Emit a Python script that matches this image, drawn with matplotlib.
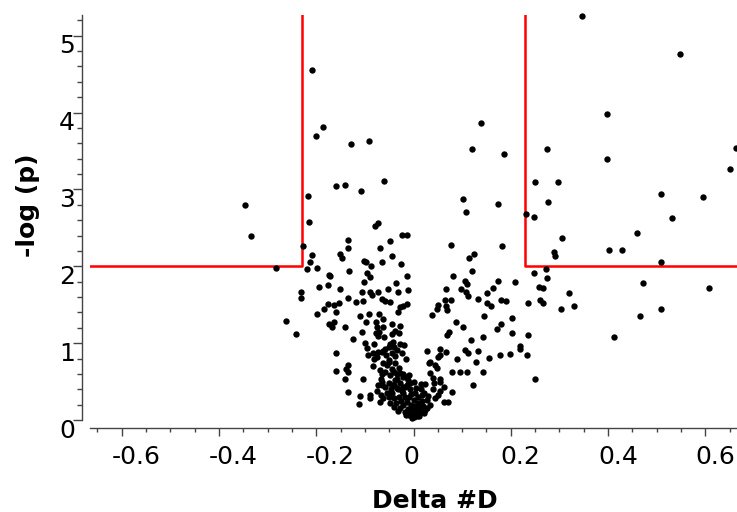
import matplotlib.pyplot as plt
import matplotlib.transforms as mtransforms
import numpy as np

# thresholds (vertical cut on Delta #D, horizontal cut on -log p)
fc_cut = 0.229
p_cut = 2.0
x_min, x_max = -0.665, 0.665
y_max = 5.27

x_major = [-0.6, -0.4, -0.2, 0.0, 0.2, 0.4, 0.6]
x_labels = ['-0.6', '-0.4', '-0.2', '0', '0.2', '0.4', '0.6']
y_major = [0, 1, 2, 3, 4, 5]
y_labels = ['0', '1', '2', '3', '4', '5']

# points, (Delta #D, -log p)
upper = [(-0.208, 4.55), (-0.187, 3.81), (-0.200, 3.70), (-0.128, 3.59), (-0.091, 3.63),
         (-0.159, 3.04), (-0.141, 3.06), (-0.107, 2.98), (-0.060, 3.11), (-0.216, 2.92),
         (-0.346, 2.80), (-0.214, 2.57), (-0.334, 2.40), (-0.080, 2.53), (-0.073, 2.56),
         (-0.135, 2.34), (-0.135, 2.24), (-0.228, 2.27), (-0.048, 2.33), (-0.023, 2.41),
         (-0.013, 2.41), (-0.068, 2.24), (0.077, 2.28), (0.102, 2.87), (0.108, 2.71),
         (0.121, 3.52), (0.347, 5.26), (0.548, 4.76), (0.398, 3.98), (0.139, 3.86),
         (0.186, 3.46), (0.275, 3.52), (0.398, 3.40), (0.662, 3.54), (0.650, 3.27),
         (0.250, 3.10), (0.297, 3.10), (0.509, 2.94), (0.595, 2.90), (0.173, 2.81),
         (0.277, 2.84), (0.232, 2.68), (0.247, 2.64), (0.531, 2.63), (0.459, 2.43),
         (0.306, 2.37), (0.182, 2.27), (0.288, 2.19), (0.291, 2.14), (0.402, 2.21),
         (0.429, 2.21), (0.509, 2.05)]

right = [(0.247, 1.91), (0.273, 1.97), (0.275, 1.85), (0.471, 1.78), (0.608, 1.72),
         (0.174, 1.81), (0.208, 1.79), (0.163, 1.72), (0.257, 1.73), (0.266, 1.72),
         (0.151, 1.65), (0.133, 1.58), (0.320, 1.65), (0.179, 1.56), (0.191, 1.55),
         (0.151, 1.52), (0.159, 1.48), (0.236, 1.52), (0.261, 1.56), (0.267, 1.52),
         (0.304, 1.45), (0.330, 1.48), (0.509, 1.45), (0.466, 1.35), (0.145, 1.35),
         (0.202, 1.33), (0.180, 1.25), (0.171, 1.18), (0.413, 1.08), (0.202, 1.13),
         (0.143, 1.08), (0.236, 1.10), (0.119, 1.04), (0.219, 0.96), (0.219, 0.92),
         (0.132, 0.90), (0.177, 0.85), (0.156, 0.81), (0.199, 0.86), (0.234, 0.85),
         (0.129, 0.76), (0.143, 0.63), (0.250, 0.54), (0.122, 0.46)]

middle_right = [(0.115, 2.11), (0.125, 2.16), (0.120, 1.94), (0.082, 1.88), (0.067, 1.70),
                (0.106, 1.81), (0.110, 1.77), (0.097, 1.70), (0.108, 1.67), (0.113, 1.61),
                (0.065, 1.56), (0.077, 1.56), (0.051, 1.50), (0.049, 1.44), (0.069, 1.43),
                (0.067, 1.48), (0.038, 1.37), (0.088, 1.27), (0.102, 1.21), (0.072, 1.15),
                (0.069, 1.11), (0.055, 0.92), (0.067, 0.89), (0.051, 0.82), (0.105, 0.91),
                (0.112, 0.87), (0.089, 0.80), (0.048, 0.68), (0.079, 0.63), (0.095, 0.62),
                (0.111, 0.63), (0.034, 0.61), (0.041, 0.55), (0.055, 0.53), (0.043, 0.48),
                (0.062, 0.43), (0.079, 0.37), (0.016, 0.47), (0.024, 0.47), (0.033, 0.75),
                (0.040, 0.40), (0.055, 0.38), (0.062, 0.24), (0.071, 0.23), (0.028, 0.90),
                (0.055, 0.85), (0.045, 0.72), (0.055, 0.50), (0.051, 0.33), (0.045, 0.28)]

left = [(-0.209, 2.15), (-0.213, 2.05), (-0.282, 1.98), (-0.218, 1.97), (-0.199, 1.98),
        (-0.151, 2.16), (-0.146, 2.11), (-0.174, 1.89), (-0.171, 1.87), (-0.194, 1.73),
        (-0.176, 1.76), (-0.231, 1.67), (-0.231, 1.59), (-0.152, 1.70), (-0.175, 1.51),
        (-0.164, 1.49), (-0.154, 1.52), (-0.184, 1.44), (-0.160, 1.41), (-0.199, 1.38),
        (-0.173, 1.25), (-0.168, 1.21), (-0.163, 1.27), (-0.262, 1.29), (-0.242, 1.12)]

middle_left = [(-0.101, 2.07), (-0.097, 2.05), (-0.087, 2.01), (-0.064, 2.05), (-0.044, 2.13),
               (-0.025, 2.03), (-0.132, 1.94), (-0.096, 1.91), (-0.089, 1.86), (-0.014, 1.88),
               (-0.101, 1.79), (-0.037, 1.78), (-0.053, 1.71), (-0.032, 1.67), (-0.012, 1.69),
               (-0.106, 1.66), (-0.090, 1.66), (-0.086, 1.63), (-0.072, 1.66), (-0.134, 1.59),
               (-0.118, 1.54), (-0.103, 1.55), (-0.064, 1.58), (-0.058, 1.55), (-0.049, 1.54),
               (-0.022, 1.48), (-0.014, 1.51), (-0.028, 1.47), (-0.031, 1.40), (-0.092, 1.38),
               (-0.071, 1.38), (-0.111, 1.35), (-0.062, 1.32), (-0.097, 1.27), (-0.077, 1.27),
               (-0.044, 1.25), (-0.027, 1.22), (-0.140, 1.21), (-0.075, 1.21), (-0.062, 1.21),
               (-0.038, 1.16), (-0.029, 1.13), (-0.106, 1.15), (-0.077, 1.13), (-0.070, 1.15),
               (-0.073, 1.09), (-0.060, 1.08), (-0.044, 1.12), (-0.125, 1.05), (-0.099, 1.00),
               (-0.082, 0.99), (-0.096, 0.94), (-0.048, 0.99), (-0.043, 1.01), (-0.040, 0.95),
               (-0.051, 0.95), (-0.027, 0.99), (-0.020, 0.97), (-0.058, 0.93), (-0.159, 0.87),
               (-0.094, 0.85), (-0.083, 0.87), (-0.075, 0.82), (-0.081, 0.79), (-0.057, 0.85),
               (-0.044, 0.87), (-0.038, 0.83), (-0.051, 0.78), (-0.023, 0.87), (-0.016, 0.80),
               (-0.135, 0.72), (-0.138, 0.66), (-0.134, 0.62), (-0.160, 0.64), (-0.083, 0.70),
               (-0.068, 0.65), (-0.065, 0.60), (-0.055, 0.72), (-0.044, 0.67), (-0.041, 0.63),
               (-0.034, 0.60), (-0.027, 0.61), (-0.021, 0.60), (-0.015, 0.56), (-0.140, 0.53),
               (-0.103, 0.53), (-0.067, 0.53), (-0.064, 0.46), (-0.051, 0.48), (-0.044, 0.46),
               (-0.039, 0.52), (-0.032, 0.40), (-0.021, 0.43), (-0.014, 0.46), (-0.135, 0.37),
               (-0.110, 0.31), (-0.089, 0.33), (-0.089, 0.29), (-0.066, 0.33), (-0.062, 0.28),
               (-0.113, 0.21), (-0.068, 0.24), (-0.065, 0.89), (-0.034, 0.91), (-0.072, 0.88),
               (-0.062, 0.90)]

blob = [(-0.062, 0.74), (-0.051, 0.76), (-0.038, 0.74), (-0.021, 0.56), (-0.010, 0.59),
        (-0.034, 0.54), (-0.027, 0.48), (-0.017, 0.43), (-0.007, 0.48), (0.000, 0.50),
        (-0.065, 0.50), (-0.058, 0.43), (-0.055, 0.35), (-0.044, 0.35), (-0.034, 0.41),
        (-0.021, 0.35), (-0.010, 0.30), (0.000, 0.26), (0.010, 0.30), (0.021, 0.35),
        (0.028, 0.26), (0.034, 0.20), (0.014, 0.17), (-0.003, 0.15), (-0.017, 0.11),
        (-0.027, 0.15), (-0.041, 0.17), (-0.048, 0.22), (-0.010, 0.07), (0.000, 0.04),
        (0.007, 0.05), (-0.003, 0.03), (0.014, 0.11), (0.024, 0.13), (0.010, 0.22),
        (0.003, 0.35), (0.031, 0.74), (-0.005, 0.20), (0.005, 0.12), (0.018, 0.25),
        (-0.025, 0.25), (-0.030, 0.30), (0.015, 0.40), (-0.008, 0.40),
        (-0.036, 0.22), (-0.032, 0.12), (-0.022, 0.19), (-0.014, 0.24), (-0.012, 0.14),
        (-0.006, 0.09), (0.004, 0.08), (0.010, 0.15), (0.020, 0.18), (0.027, 0.16),
        (0.022, 0.09), (0.030, 0.31), (0.004, 0.18), (-0.005, 0.34), (-0.018, 0.30),
        (-0.040, 0.28), (-0.050, 0.30), (-0.047, 0.40), (-0.040, 0.46), (-0.024, 0.38),
        (-0.012, 0.52), (0.006, 0.42), (0.012, 0.05), (-0.016, 0.06), (0.017, 0.32),
        (-0.058, 0.62), (-0.048, 0.58), (-0.030, 0.68), (-0.072, 0.45), (-0.075, 0.38)]

pts = np.array(upper + right + middle_right + left + middle_left + blob)

fig = plt.figure(figsize=(7.37, 5.12), dpi=100)
ax = fig.add_axes([90 / 737, 92 / 512, 647 / 737, 405 / 512])

ax.plot([x_min, -fc_cut, -fc_cut], [p_cut, p_cut, y_max], color='#ff0000', lw=1.8, zorder=2)
ax.plot([x_max, fc_cut, fc_cut], [p_cut, p_cut, y_max], color='#ff0000', lw=1.8, zorder=2)
ax.scatter(pts[:, 0], pts[:, 1], s=21, c='black', linewidths=0, zorder=3, clip_on=False)

ax.set_xlim(x_min, x_max)
ax.set_ylim(0, y_max)

for s in ['top', 'right']:
    ax.spines[s].set_visible(False)
for s in ['left', 'bottom']:
    ax.spines[s].set_position(('outward', 5.76))
    ax.spines[s].set_color('#444444')
    ax.spines[s].set_linewidth(1.0)

ax.set_xticks(x_major, x_labels)
ax.set_xticks(np.round(np.arange(-13, 14) * 0.05, 2), minor=True)
ax.set_yticks(y_major, y_labels)
ax.set_yticks(np.round(np.arange(0, 27) * 0.2, 1), minor=True)

ax.tick_params(axis='both', which='both', direction='out', color='#444444', width=1.0,
               labelsize=18, labelcolor='black')
ax.tick_params(axis='x', which='major', length=5.8, pad=6.5)
ax.tick_params(axis='x', which='minor', length=3.0)
ax.tick_params(axis='y', which='major', length=6.5, pad=0)
ax.tick_params(axis='y', which='minor', length=3.6)

# tick labels sit a little off their ticks in the original
for lab in ax.get_xticklabels():
    lab.set_horizontalalignment('left')
    lab.set_transform(lab.get_transform() +
                      mtransforms.ScaledTranslation(-0.10, 0, fig.dpi_scale_trans))
for lab in ax.get_yticklabels():
    lab.set_transform(lab.get_transform() +
                      mtransforms.ScaledTranslation(0.02, -0.08, fig.dpi_scale_trans))

fig.text(434.5 / 737, 4 / 512, 'Delta #D', ha='center', va='baseline',
         fontsize=18, fontweight='bold')
fig.text(28.5 / 737, 1 - 205.5 / 512, '-log (p)', rotation=90, ha='center', va='center',
         fontsize=18, fontweight='bold')

fig.savefig('out.png', dpi=100)
